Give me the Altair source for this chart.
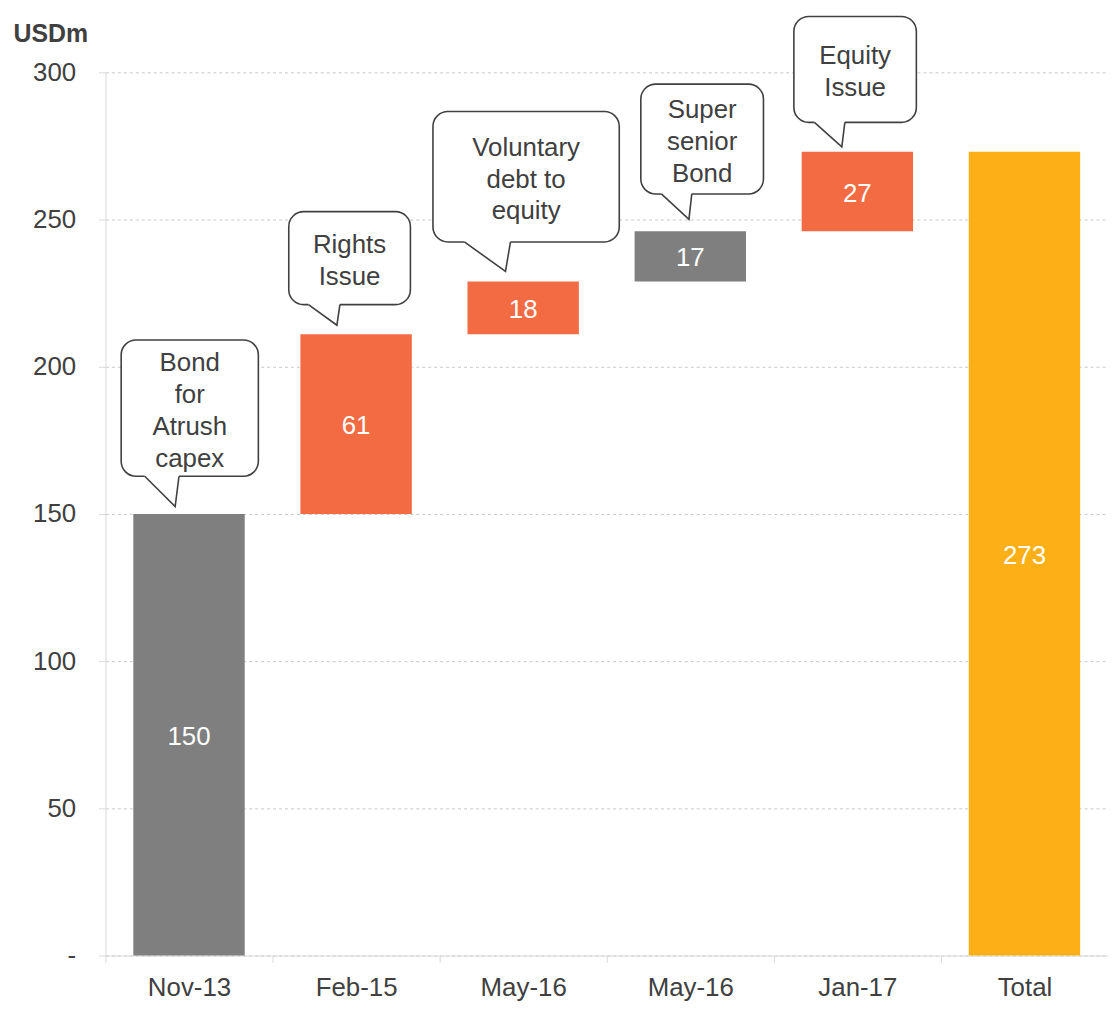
import json
import altair as alt
import pandas as pd

# ---------------- data ----------------
categories = ["Nov-13", "Feb-15", "May-16", "May-16", "Jan-17", "Total"]
amounts = [150, 61, 18, 17, 27, 273]
kinds = ["Debt", "Equity", "Equity", "Debt", "Equity", "Total"]
callout_texts = [
    "Bond\nfor\nAtrush\ncapex",
    "Rights\nIssue",
    "Voluntary\ndebt to\nequity",
    "Super\nsenior\nBond",
    "Equity\nIssue",
]
y_ticks = [0, 50, 100, 150, 200, 250, 300]

kind_domain = ["Debt", "Equity", "Total"]
kind_colors = ["#7f7f7f", "#f26b43", "#fcaf17"]

# callout layout: offsets in band units from the band's left edge, and in USDm above the bar top
# (left, right, tail_left, tail_right, tip_x, bottom_gap, height, tip_gap)
CALLOUT_LAYOUT = [
    (0.094, 0.915, 0.235, 0.440, 0.417, 12.8, 46.3, 2.5),
    (0.097, 0.825, 0.215, 0.403, 0.385, 10.1, 31.6, 3.1),
    (-0.040, 1.075, 0.148, 0.424, 0.394, 13.4, 44.3, 3.4),
    (0.204, 0.938, 0.327, 0.509, 0.492, 12.7, 37.3, 4.1),
    (0.120, 0.853, 0.243, 0.425, 0.407, 10.0, 36.0, 1.7),
]

FONT = "Liberation Sans"
TXT = "#404040"
AX = "#d9d9d9"
PLOT_W, PLOT_H = 1008, 888
Y_MAX = 300
LINE_PX = 32
line_units = LINE_PX / (PLOT_H / Y_MAX)

# ---------------- waterfall table ----------------
rows = []
running = 0
for i, (c, a, k) in enumerate(zip(categories, amounts, kinds)):
    if k == "Total":
        s, e = 0, a
    else:
        s, e = running, running + a
        running = e
    rows.append(dict(idx=i, cat=c, amount=a, kind=k, start=s, end=e, mid=(s + e) / 2))
bars_df = pd.DataFrame(rows)

box_rows, tail_rows, mask_rows, line_rows = [], [], [], []
for j, (txt, lay) in enumerate(zip(callout_texts, CALLOUT_LAYOUT)):
    L, R, BL, BR, TX, gap, h, tgap = lay
    top_of_bar = rows[j]["end"]
    yb = top_of_bar + gap
    yt = yb + h
    xc = j + (L + R) / 2
    yc = (yb + yt) / 2
    box_rows.append(dict(id=j, x1=j + L, x2=j + R, yb=yb, yt=yt))
    mask_rows.append(dict(id=j, bx1=j + BL, bx2=j + BR, yb=yb))
    tail_rows += [
        dict(id=j, ord=0, x=j + BL, y=yb),
        dict(id=j, ord=1, x=j + TX, y=top_of_bar + tgap),
        dict(id=j, ord=2, x=j + BR, y=yb),
    ]
    parts = txt.split("\n")
    n = len(parts)
    for k, p in enumerate(parts):
        line_rows.append(dict(id=j, xc=xc, y=yc + ((n - 1) / 2 - k) * line_units, text=p))
box_df = pd.DataFrame(box_rows)
tail_df = pd.DataFrame(tail_rows)
mask_df = pd.DataFrame(mask_rows)
line_df = pd.DataFrame(line_rows)

# ---------------- scales / axes ----------------
y_scale = alt.Scale(domain=[0, Y_MAX], nice=False, zero=True)
y_axis = alt.Axis(
    values=y_ticks,
    labelExpr="datum.value == 0 ? '-' : format(datum.value, 'd')",
    grid=True, gridDash=[3, 3], gridColor="#c8c8c8", gridWidth=1,
    domainColor=AX, tickColor=AX, tickSize=7,
    labelPadding=23, labelFontSize=26, labelColor=TXT, labelFont=FONT,
    title="USDm", titleAngle=0, titleAlign="left", titleBaseline="alphabetic",
    titleX=-93, titleY=-31, titleFontSize=25, titleFontWeight="bold",
    titleColor=TXT, titleFont=FONT,
)
x_band_scale = alt.Scale(paddingInner=0, paddingOuter=0)
x_axis = alt.Axis(
    labelExpr=json.dumps(categories) + "[datum.value]",
    tickBand="extent", tickSize=7, tickColor=AX, domainColor=AX,
    labelFontSize=26, labelColor=TXT, labelFont=FONT, labelPadding=12,
    labelAngle=0, title=None, grid=False,
)
xq_scale = alt.Scale(domain=[0, 6], nice=False, zero=False)

# ---------------- layers ----------------
bars = alt.Chart(bars_df).mark_bar(size=112).encode(
    x=alt.X("idx:O", scale=x_band_scale, axis=x_axis),
    y=alt.Y("start:Q", scale=y_scale, axis=y_axis),
    y2="end:Q",
    color=alt.Color("kind:N", scale=alt.Scale(domain=kind_domain, range=kind_colors), legend=None),
)

bar_labels = alt.Chart(bars_df).mark_text(
    color="white", fontSize=26, font=FONT, baseline="middle", align="center", dy=2
).encode(
    x=alt.X("idx:O", scale=x_band_scale, axis=None),
    y=alt.Y("mid:Q", scale=y_scale, axis=y_axis),
    text=alt.Text("amount:Q", format="d"),
)

boxes = alt.Chart(box_df).mark_rect(
    cornerRadius=15, fill="white", stroke=TXT, strokeWidth=1.6
).encode(
    x=alt.X("x1:Q", scale=xq_scale, axis=None),
    x2="x2:Q",
    y=alt.Y("yb:Q", scale=y_scale, axis=y_axis),
    y2="yt:Q",
)

masks = alt.Chart(mask_df).mark_rule(color="white", strokeWidth=3.5).encode(
    x=alt.X("bx1:Q", scale=xq_scale, axis=None),
    x2="bx2:Q",
    y=alt.Y("yb:Q", scale=y_scale, axis=y_axis),
)

tails = alt.Chart(tail_df).mark_line(
    stroke=TXT, strokeWidth=1.6, strokeJoin="miter"
).encode(
    x=alt.X("x:Q", scale=xq_scale, axis=None),
    y=alt.Y("y:Q", scale=y_scale, axis=y_axis),
    detail="id:N",
    order="ord:Q",
)

box_text = alt.Chart(line_df).mark_text(
    fontSize=26, font=FONT, color=TXT, align="center", baseline="middle", dy=3
).encode(
    x=alt.X("xc:Q", scale=xq_scale, axis=None),
    y=alt.Y("y:Q", scale=y_scale, axis=y_axis),
    text="text:N",
)

chart = alt.layer(bars, bar_labels, boxes, masks, tails, box_text).resolve_scale(
    x="independent"
).properties(
    width=PLOT_W,
    height=PLOT_H,
    autosize=alt.AutoSizeParams(type="none"),
    padding={"left": 98, "top": 62, "right": 0, "bottom": 44},
).configure_view(stroke=None)

chart.save("out.html", embed_options={"renderer": "svg", "actions": False})
